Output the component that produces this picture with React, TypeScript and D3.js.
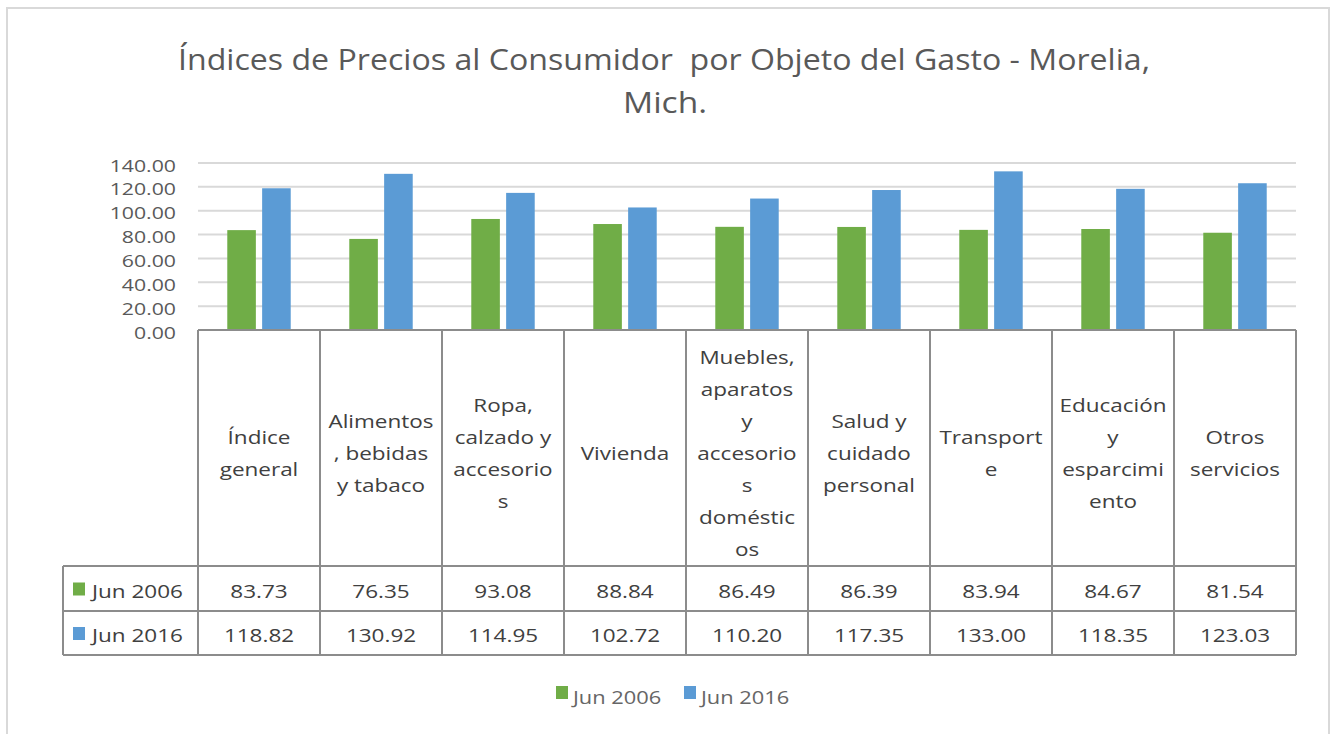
import * as d3 from "d3"

const categories = [
  "Índice general",
  "Alimentos, bebidas y tabaco",
  "Ropa, calzado y accesorios",
  "Vivienda",
  "Muebles, aparatos y accesorios domésticos",
  "Salud y cuidado personal",
  "Transporte",
  "Educación y esparcimiento",
  "Otros servicios",
]

// wrapped the way the table header shows them
const categoryLines = [
  ["Índice", "general"],
  ["Alimentos", ", bebidas", "y tabaco"],
  ["Ropa,", "calzado y", "accesorio", "s"],
  ["Vivienda"],
  ["Muebles,", "aparatos", "y", "accesorio", "s", "doméstic", "os"],
  ["Salud y", "cuidado", "personal"],
  ["Transport", "e"],
  ["Educación", "y", "esparcimi", "ento"],
  ["Otros", "servicios"],
]

const seriesNames = ["Jun 2006", "Jun 2016"]
const jun2006 = [83.73, 76.35, 93.08, 88.84, 86.49, 86.39, 83.94, 84.67, 81.54]
const jun2016 = [118.82, 130.92, 114.95, 102.72, 110.2, 117.35, 133.0, 118.35, 123.03]
const yTicks = [0, 20, 40, 60, 80, 100, 120, 140]

const colors = ["#70ad47", "#5b9bd5"]
const W = 1330
const H = 734
const SX = 1.25
const FONT = "'Open Sans', sans-serif"

const T = ({ x, y, children, anchor = "middle", fill = "#404040", size = 18 }: any) => (
  <text
    transform={`translate(${x},${y}) scale(${SX},1)`}
    textAnchor={anchor}
    dominantBaseline="central"
    fontFamily={FONT}
    fontSize={size}
    fill={fill}
  >
    {children}
  </text>
)

export default function App() {
  const left = 198
  const right = 1296
  const tableLeft = 63
  const yTop = 163
  const yZero = 330
  const headerBottom = 566
  const row1Bottom = 611
  const row2Bottom = 655

  const x = d3.scaleBand<string>().domain(categories).range([left, right])
  const bw = x.bandwidth()
  const xs = d3
    .scaleBand<string>()
    .domain(seriesNames)
    .range([bw * 0.24, bw * 0.76])
    .paddingInner(0.18)
  const y = d3.scaleLinear().domain([0, 140]).range([yZero, yTop])

  const series = [jun2006, jun2016]
  const boundaries = categories.map((c) => x(c)!).concat([right])
  const lineColor = "#8c8c8c"
  const headerMid = 453
  const lineH = 32

  return (
    <svg
      width={W}
      height={H}
      style={{ position: "absolute", left: 0, top: 0, background: "#fff" }}
    >
      <rect x={7} y={8} width={1322} height={760} fill="#fff" stroke="#d9d9d9" strokeWidth={2} />

      <text
        x={664}
        y={58}
        textAnchor="middle"
        dominantBaseline="central"
        fontFamily={FONT}
        fontSize={29}
        fill="#595959"
        textLength={972}
        lengthAdjust="spacingAndGlyphs"
        style={{ whiteSpace: "pre" }}
      >
        {"Índices de Precios al Consumidor  por Objeto del Gasto - Morelia,"}
      </text>
      <text
        x={665}
        y={101}
        textAnchor="middle"
        dominantBaseline="central"
        fontFamily={FONT}
        fontSize={29}
        fill="#595959"
        textLength={84}
        lengthAdjust="spacingAndGlyphs"
      >
        Mich.
      </text>

      {/* gridlines */}
      {yTicks.slice(1).map((t) => (
        <line key={t} x1={left} x2={right} y1={y(t)} y2={y(t)} stroke="#d9d9d9" strokeWidth={2} />
      ))}
      {yTicks.map((t) => (
        <T key={t} x={176} y={y(t) + 2} anchor="end" fill="#595959" size={17}>
          {t.toFixed(2)}
        </T>
      ))}

      {/* bars */}
      {categories.map((c, i) => (
        <g key={c} transform={`translate(${x(c)},0)`}>
          {series.map((s, j) => (
            <rect
              key={j}
              x={xs(seriesNames[j])}
              y={y(s[i])}
              width={xs.bandwidth()}
              height={y(0) - y(s[i])}
              fill={colors[j]}
            />
          ))}
        </g>
      ))}

      {/* data table */}
      <g stroke={lineColor} strokeWidth={2} fill="none">
        <line x1={left} x2={right} y1={yZero} y2={yZero} />
        {[headerBottom, row1Bottom, row2Bottom].map((yy) => (
          <line key={yy} x1={tableLeft} x2={right} y1={yy} y2={yy} />
        ))}
        <line x1={tableLeft} x2={tableLeft} y1={headerBottom} y2={row2Bottom} />
        {boundaries.map((bx, i) => (
          <line key={i} x1={bx} x2={bx} y1={yZero} y2={row2Bottom} />
        ))}
      </g>

      {categoryLines.map((lines, i) => {
        const cx = x(categories[i])! + bw / 2
        const start = headerMid - ((lines.length - 1) * lineH) / 2
        return lines.map((l, k) => (
          <T key={i + "-" + k} x={cx} y={start + k * lineH}>
            {l}
          </T>
        ))
      })}

      {series.map((s, j) => {
        const top = j === 0 ? headerBottom : row1Bottom
        const bottom = j === 0 ? row1Bottom : row2Bottom
        const cy = (top + bottom) / 2 + 2
        return (
          <g key={j}>
            <rect x={73} y={cy - 8} width={12} height={13} fill={colors[j]} />
            <T x={92} y={cy} anchor="start">
              {seriesNames[j]}
            </T>
            {s.map((v, i) => (
              <T key={i} x={x(categories[i])! + bw / 2} y={cy}>
                {v.toFixed(2)}
              </T>
            ))}
          </g>
        )
      })}

      {/* legend */}
      {seriesNames.map((n, j) => {
        const lx = j === 0 ? 556 : 684
        return (
          <g key={n}>
            <rect x={lx} y={686} width={12} height={13} fill={colors[j]} />
            <T x={lx + 17} y={697} anchor="start" fill="#666666" size={17.5}>
              {n}
            </T>
          </g>
        )
      })}
    </svg>
  )
}
